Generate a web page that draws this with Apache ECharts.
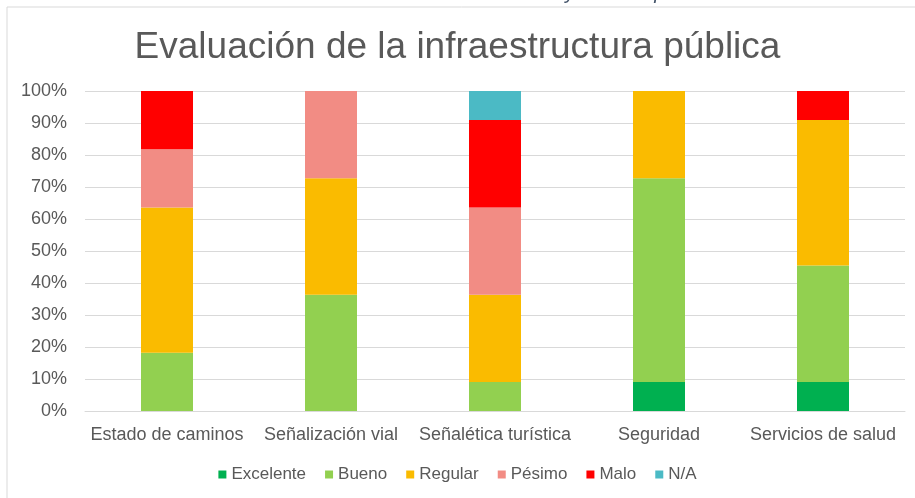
<!DOCTYPE html>
<html><head><meta charset="utf-8">
<script src="https://cdn.jsdelivr.net/npm/echarts@6/dist/echarts.min.js"></script>
<style>html,body{margin:0;padding:0;background:#fff}#c{width:915px;height:498px}</style>
</head><body><div id="c"></div>
<script>
var categories = ['Estado de caminos','Señalización vial','Señalética turística','Seguridad','Servicios de salud'];
var seriesNames = ['Excelente','Bueno','Regular','Pésimo','Malo','N/A'];
var excelente = [0, 0, 0, 9.09, 9.09];
var bueno     = [18.18, 36.36, 9.09, 63.64, 36.36];
var regular   = [45.45, 36.36, 27.27, 27.27, 45.45];
var pesimo    = [18.18, 27.27, 27.27, 0, 0];
var malo      = [18.18, 0, 27.27, 0, 9.09];
var na        = [0, 0, 9.09, 0, 0];
var colors = ['#00b050','#92d050','#fabb00','#f28c84','#ff0000','#4bbac5'];
var values = [excelente, bueno, regular, pesimo, malo, na];

var chart = echarts.init(document.getElementById('c'));
var font = 'Liberation Sans, Arial, sans-serif';
chart.setOption({
  animation: false,
  graphic: [
    {type:'rect', shape:{x:7,y:7,width:920,height:500}, style:{fill:'none', stroke:'#d9d9d9', lineWidth:1}, z:-1},
    {type:'text', left:'center', top:-17, style:{text:'Gráfica 12. Evaluación de infraestructura y servicio público', fill:'#44546a', font:'italic 20px ' + font}}
  ],
  title: {text:'Evaluación de la infraestructura pública', left:'center', top:24,
    textStyle:{fontFamily:font, fontSize:37, fontWeight:'normal', color:'#595959'}},
  legend: {bottom:10, left:'center', itemWidth:8, itemHeight:8, itemGap:19, icon:'rect',
    textStyle:{fontFamily:font, fontSize:17, color:'#595959', padding:[0,0,0,0]}},
  grid: {left:85, right:10, top:91, bottom:87},
  xAxis: {type:'category', data:categories, axisTick:{show:false},
    axisLine:{lineStyle:{color:'#d9d9d9'}},
    axisLabel:{interval:0, fontFamily:font, fontSize:18, color:'#595959', margin:15}},
  yAxis: {type:'value', min:0, max:100, interval:10,
    axisLabel:{formatter:'{value}%', fontFamily:font, fontSize:18, color:'#595959', margin:18},
    splitLine:{lineStyle:{color:'#d9d9d9'}}, axisLine:{show:false}},
  series: seriesNames.map(function(n,i){
    return {name:n, type:'bar', stack:'t', barWidth:52, itemStyle:{color:colors[i]}, data:values[i]};
  })
});
</script></body></html>
